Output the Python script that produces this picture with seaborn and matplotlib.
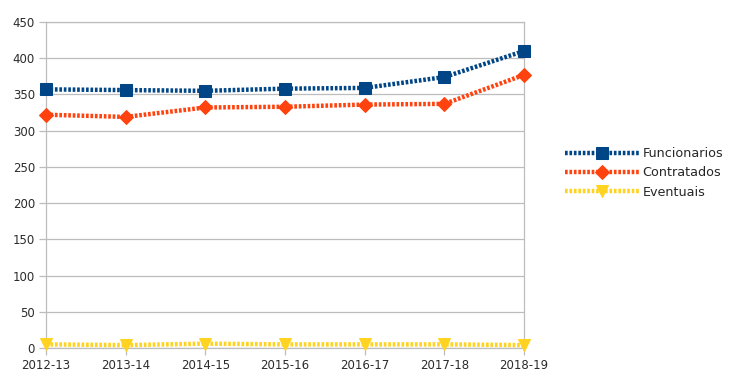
import pandas as pd
import matplotlib
matplotlib.use("Agg")
import matplotlib.pyplot as plt
import seaborn as sns

# dados do grafico
anos = ["2012-13", "2013-14", "2014-15", "2015-16", "2016-17", "2017-18", "2018-19"]
funcionarios = [357, 356, 355, 358, 359, 374, 410]
contratados = [322, 319, 332, 333, 336, 337, 377]
eventuais = [5, 4, 6, 5, 5, 5, 4]

series = ["Funcionarios", "Contratados", "Eventuais"]
cores = ["#004586", "#FF420E", "#FFD320"]
marcadores = ["s", "D", "v"]
tamanhos = [9, 7, 9]

df = pd.DataFrame({"ano": anos, "Funcionarios": funcionarios,
                   "Contratados": contratados, "Eventuais": eventuais})
df["pos"] = range(len(anos))

sns.set_style("white")
plt.rcParams["font.family"] = ["DejaVu Sans"]

fig = plt.figure(figsize=(7.34, 3.74), dpi=100)
ax = fig.add_axes([0.0627, 0.0695, 0.6513, 0.8717])

for nome, cor, mk, ms in zip(series, cores, marcadores, tamanhos):
    sns.lineplot(data=df, x="pos", y=nome, ax=ax, color=cor, marker=mk,
                 markersize=ms, markeredgecolor=cor, linewidth=3.2,
                 linestyle=(0, (0.6, 0.4)), label=nome, clip_on=False, zorder=3)

ax.set_xlim(0, len(anos) - 1)
ax.set_ylim(0, 450)
ax.set_yticks(range(0, 451, 50))
ax.set_xticks(range(len(anos)))
ax.set_xticklabels(anos)
ax.set_xlabel("")
ax.set_ylabel("")
ax.grid(axis="y", color="#bdbdbd", linewidth=0.9)
for s in ax.spines.values():
    s.set_color("#bdbdbd")
    s.set_linewidth(0.9)
ax.tick_params(axis="both", labelsize=8.5, colors="#bdbdbd", labelcolor="#2b2b2b",
               length=5, width=0.9, left=True, bottom=True)
ax.tick_params(axis="x", pad=3)
ax.tick_params(axis="y", pad=3)

ax.legend(loc="center left", bbox_to_anchor=(1.085, 0.537), frameon=False,
          fontsize=9.2, handlelength=5.8, handletextpad=0.3, labelspacing=0.5,
          borderaxespad=0, borderpad=0)

plt.savefig("out.png", dpi=100)
